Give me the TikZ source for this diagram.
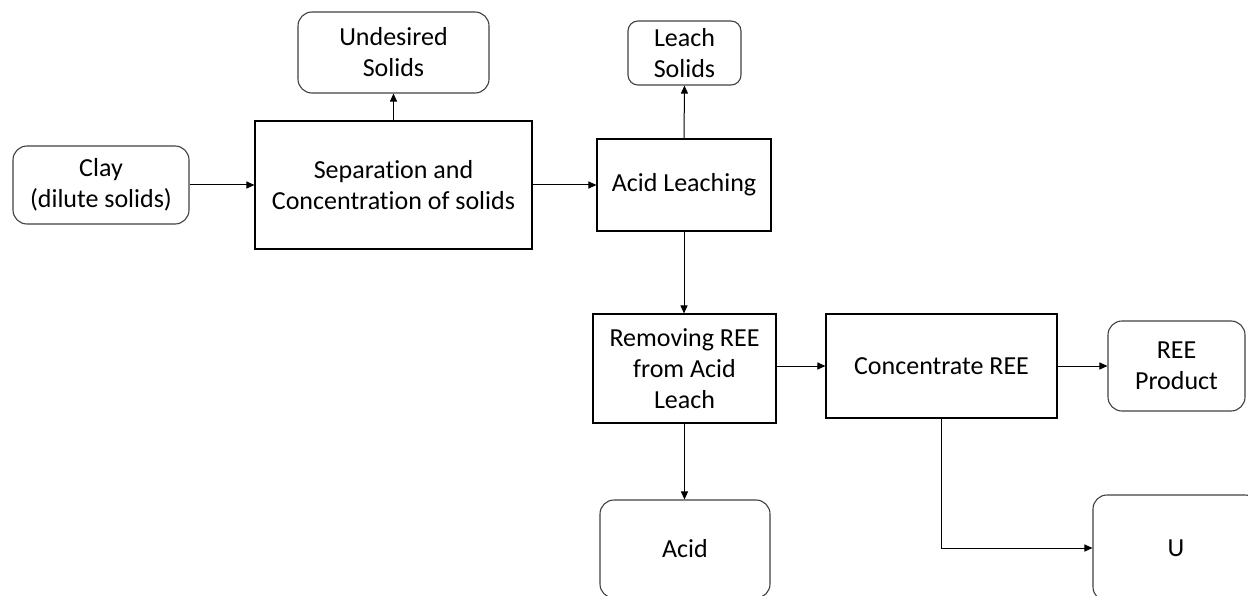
\documentclass[tikz,border=0pt]{standalone}
\usepackage{fontspec}
\setmainfont{Carlito}[Ligatures=NoCommon]
\usetikzlibrary{arrows.meta}
\begin{document}
\begin{tikzpicture}[x=1pt,y=-1pt,
  every node/.style={font=\fontsize{26}{31}\selectfont, align=center, inner sep=0pt},
  sqbox/.style={draw=black, line width=1.1pt},
  rbox/.style={draw=black!75, line width=1.1pt, rounded corners=14pt},
  flow/.style={draw=black, line width=1pt, -{Triangle[length=8pt,width=7pt]}}]
\useasboundingbox (0,0) rectangle (1248,596);
\clip (0,0) rectangle (1248,596);
\node[rbox, minimum width=176pt, minimum height=78pt] (clay) at (101,185) {Clay\\(dilute solids)};
\node[sqbox, minimum width=277pt, minimum height=128pt] (sep) at (393.5,185) {Separation and\\Concentration of solids};
\node[rbox, minimum width=191pt, minimum height=81pt] (und) at (393.5,52.5) {Undesired\\Solids};
\node[sqbox, minimum width=174pt, minimum height=92pt] (leach) at (684,185) {Acid Leaching};
\node[rbox, minimum width=113pt, minimum height=64pt, rounded corners=10pt] (ls) at (684.5,53) {Leach\\Solids};
\node[sqbox, minimum width=183pt, minimum height=109pt] (rem) at (684.5,368.5) {Removing REE\\from Acid\\Leach};
\node[sqbox, minimum width=231pt, minimum height=104pt] (conc) at (941.5,366) {Concentrate REE};
\node[rbox, minimum width=137pt, minimum height=90pt] (prod) at (1176.5,366) {REE\\Product};
\node[rbox, minimum width=170pt, minimum height=98pt] (acid) at (685,549) {Acid};
\node[rbox, minimum width=166pt, minimum height=106pt] (u) at (1176,548) {U};
\coordinate (bend) at (941,548);
\draw[flow] (clay.east) -- (sep.west);
\draw[flow] (sep.east) -- (leach.west);
\draw[flow] (sep.north) -- (und.south);
\draw[flow] (leach.north) -- (ls.north |- ls.south);
\draw[flow] (leach.south) -- (leach.south |- rem.north);
\draw[flow] (rem.east |- conc.east) -- (conc.west);
\draw[flow] (conc.east) -- (prod.west);
\draw[flow] (rem.south) -- (rem.south |- acid.north);
\draw[flow] (conc.south -| bend) -- (bend) -- (u.west);
\end{tikzpicture}
\end{document}
